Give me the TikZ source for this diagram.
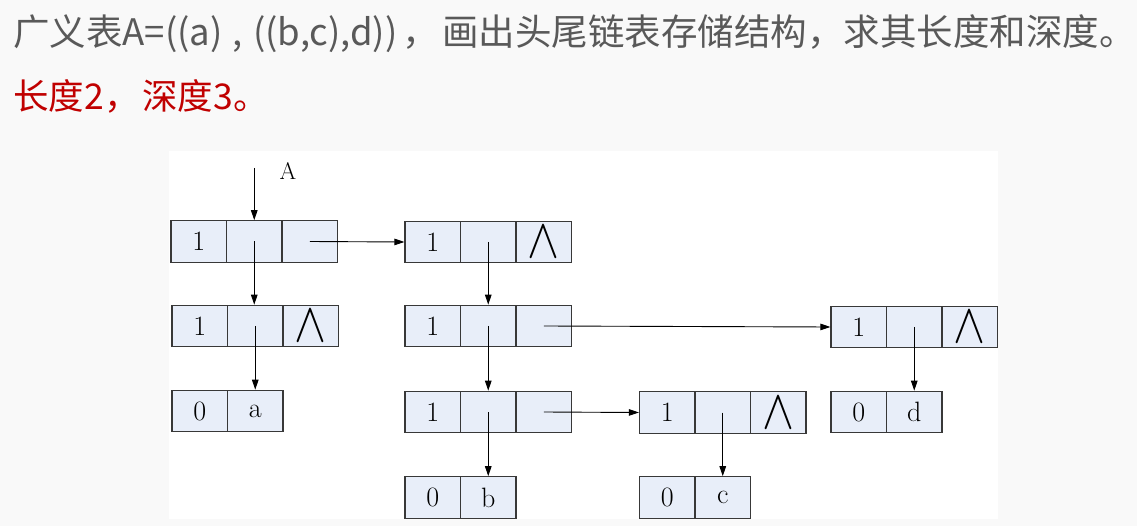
\documentclass[tikz,border=0pt]{standalone}
\usepackage{fontspec}
\newfontfamily\cjk{Noto Sans CJK SC}
\usetikzlibrary{arrows.meta}
\definecolor{cellblue}{RGB}{232,238,249}
\definecolor{titlegray}{RGB}{89,89,89}
\definecolor{ansred}{RGB}{192,0,0}
\definecolor{bggray}{RGB}{249,249,249}
\newcommand\nilsym{\resizebox{32pt}{31pt}{$\wedge$}}
\begin{document}
\begin{tikzpicture}[x=1pt,y=-1pt,
 cell/.style={draw=black!78, fill=cellblue, line width=1.1pt, minimum width=55.5pt, minimum height=41.5pt, inner sep=0pt, font=\fontsize{28}{28}\selectfont, anchor=center},
 ptr/.style={line width=0.9pt, -{Triangle[length=10pt,width=6.5pt]}}]
\useasboundingbox (0,0) rectangle (1137,526);
\fill[bggray] (0,0) rectangle (1137,526);
\fill[white] (169,151) rectangle (998,519);
\node[anchor=base west, inner sep=0, text=titlegray, font=\cjk\fontsize{36.5}{36.5}\selectfont] (title) at (13,46) {广义表A=((a)\hspace{2pt} ,\hspace{2pt} ((b,c),d))\hspace{5pt}，\hspace{3pt}画出头尾链表存储结构，求其长度和深度。};
\node[anchor=base west, inner sep=0, text=ansred, font=\cjk\fontsize{35.5}{35.5}\selectfont] (answer) at (13,110) {长度2\hspace{1pt}，\hspace{2pt}深度3。};
% list nodes
\node[cell] (n1a) at (198.75,241.5) {1};
\node[cell] (n1b) at (254.25,241.5) {};
\node[cell] (n1c) at (309.75,241.5) {};
\node[cell] (n2a) at (199.75,326) {1};
\node[cell] (n2b) at (255.25,326) {};
\node[cell] (n2c) at (310.75,326) {\nilsym};
\node[cell] (n3a) at (199.75,411) {0};
\node[cell] (n3b) at (255.25,411) {a};
\node[cell] (n4a) at (432.75,242) {1};
\node[cell] (n4b) at (488.25,242) {};
\node[cell] (n4c) at (543.75,242) {\nilsym};
\node[cell] (n5a) at (432.75,326) {1};
\node[cell] (n5b) at (488.25,326) {};
\node[cell] (n5c) at (543.75,326) {};
\node[cell] (n6a) at (432.75,412) {1};
\node[cell] (n6b) at (488.25,412) {};
\node[cell] (n6c) at (543.75,412) {};
\node[cell] (n7a) at (432.75,497.5) {0};
\node[cell] (n7b) at (488.25,497.5) {b};
\node[cell] (n8a) at (667.25,412.5) {1};
\node[cell] (n8b) at (722.75,412.5) {};
\node[cell] (n8c) at (778.25,412.5) {\nilsym};
\node[cell] (n9a) at (667.25,497.5) {0};
\node[cell] (n9b) at (722.75,497.5) {c};
\node[cell] (n10a) at (858.75,327) {1};
\node[cell] (n10b) at (914.25,327) {};
\node[cell] (n10c) at (969.75,327) {\nilsym};
\node[cell] (n11a) at (858.75,412) {0};
\node[cell] (n11b) at (914.25,412) {d};
% head pointer
\coordinate (Atop) at (254.25,168);
\node[font=\fontsize{24}{24}\selectfont, inner sep=0] (Alabel) at (288,171) {A};
\draw[ptr] (Atop) -- (n1b.north);
% connectors
\draw[ptr] (n1b.center) -- (n1b.center |- n2b.north);
\draw[ptr] (n1c.center) -- (n4a.west);
\draw[ptr] (n2b.center) -- (n3b.north);
\draw[ptr] (n4b.center) -- (n5b.north);
\draw[ptr] (n5c.center) -- (n10a.west);
\draw[ptr] (n5b.center) -- (n6b.north);
\draw[ptr] (n6b.center) -- (n7b.north);
\draw[ptr] (n6c.center) -- (n8a.west);
\draw[ptr] (n8b.center) -- (n9b.north);
\draw[ptr] (n10b.center) -- (n11b.north);
\end{tikzpicture}
\end{document}
